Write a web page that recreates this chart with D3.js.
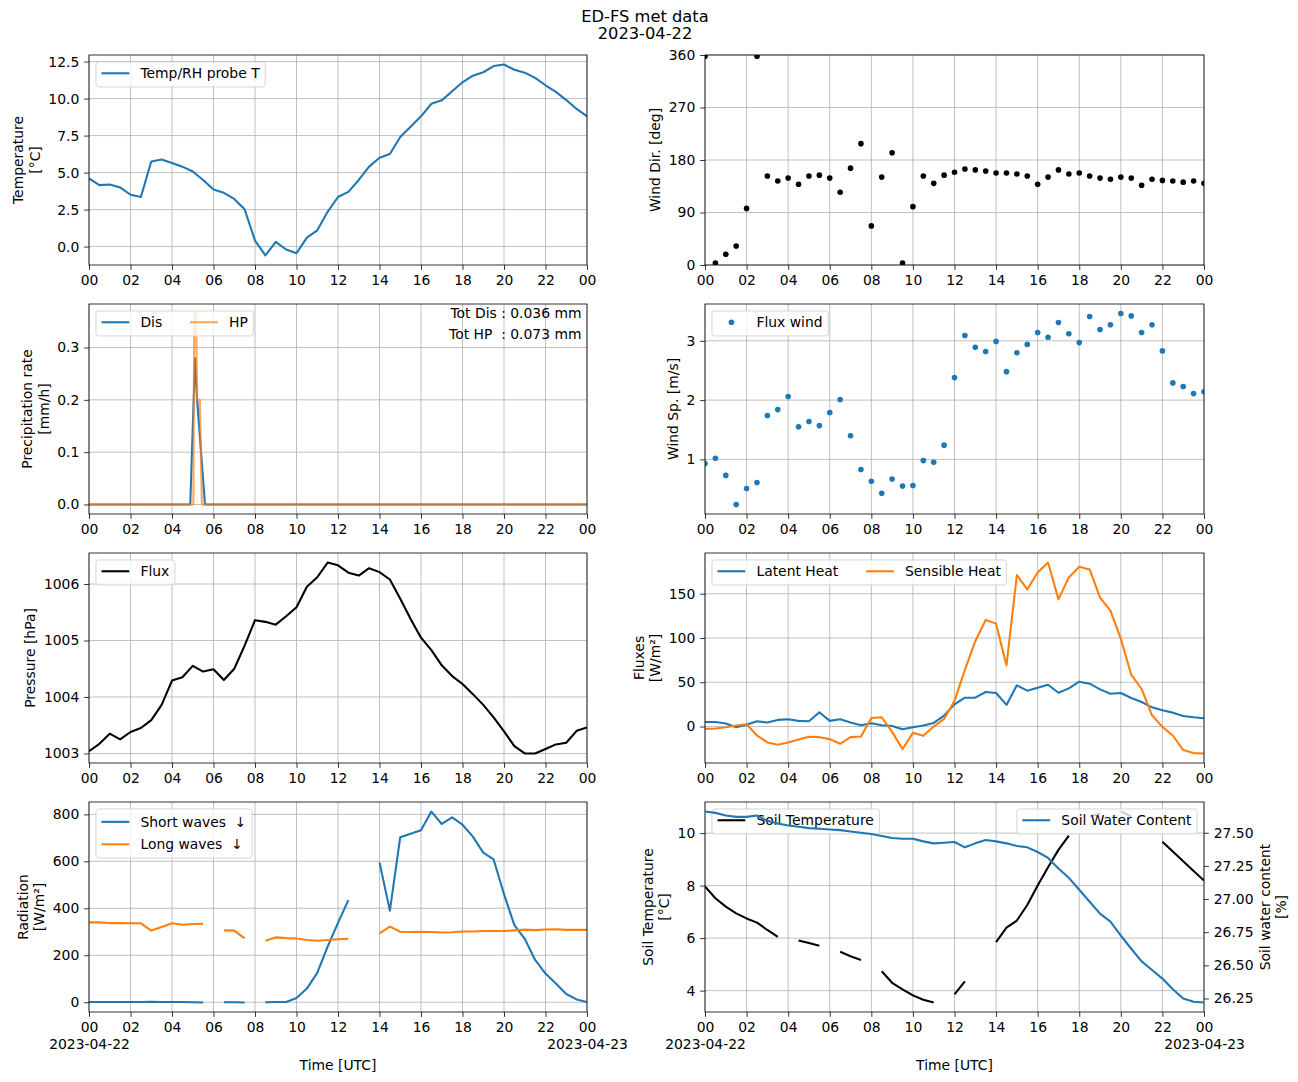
<!DOCTYPE html>
<html>
<head>
<meta charset="utf-8">
<script src="https://cdn.jsdelivr.net/npm/d3@7"></script>
<style>
  body { margin: 0; background: #fff; }
  svg text { font-family: "DejaVu Sans", sans-serif; white-space: pre; }
</style>
</head>
<body>
<div id="chart"></div>
<script>
// half-hourly timestamps, hours after 2023-04-22 00:00 UTC
const hours = [0,0.5,1,1.5,2,2.5,3,3.5,4,4.5,5,5.5,6,6.5,7,7.5,8,8.5,9,9.5,10,10.5,11,11.5,
  12,12.5,13,13.5,14,14.5,15,15.5,16,16.5,17,17.5,18,18.5,19,19.5,20,20.5,21,21.5,22,22.5,23,23.5,24];

const airTemp = [4.6,4.15,4.2,4.0,3.5,3.35,5.75,5.88,5.65,5.4,5.07,4.5,3.85,3.63,3.22,2.52,0.4,-0.6,0.32,-0.2,
  -0.45,0.6,1.1,2.35,3.35,3.7,4.5,5.4,6.0,6.25,7.4,8.1,8.8,9.65,9.88,10.5,11.1,11.55,11.78,12.2,
  12.3,11.95,11.75,11.4,10.9,10.45,9.9,9.3,8.8];

const windDir = [358,3.5,18.5,32.5,97,358,152.5,144,149,138.5,152.5,154,149,124.6,166,208,67,150.7,192.5,3.5,
  100,152.5,140,154,159,164.6,163,161,157.7,157.7,156,152.5,138.5,150.7,163,156,157.7,152.5,149,147,
  150.7,149,136.8,147,145,144,142,144,140];

const windSpeed = [0.93,1.02,0.73,0.24,0.51,0.61,1.74,1.84,2.06,1.55,1.64,1.57,1.79,2.01,1.40,0.83,0.63,0.43,0.67,0.55,
  0.56,0.98,0.95,1.24,2.38,3.09,2.89,2.82,2.99,2.48,2.80,2.94,3.14,3.06,3.31,3.12,2.97,3.41,3.19,3.27,
  3.46,3.42,3.14,3.27,2.83,2.29,2.23,2.11,2.14];

// precipitation has its own (finer) time stamps
const disHours = [0,4.88,5.11,5.21,5.59,24];
const disRate  = [0,0,0.28,0.2,0,0];
const hpHours  = [0,5.03,5.07,5.17,5.2,5.34,5.44,24];
const hpRate   = [0,0,0.365,0.365,0.2,0.2,0,0];
const precipNotes = ["Tot Dis : 0.036 mm", "Tot HP  : 0.073 mm"];

const pressure = [1003.04,1003.17,1003.35,1003.25,1003.38,1003.45,1003.59,1003.86,1004.29,1004.35,1004.55,1004.45,
  1004.49,1004.30,1004.50,1004.91,1005.36,1005.33,1005.28,1005.43,1005.59,1005.95,1006.12,1006.38,1006.33,
  1006.20,1006.15,1006.28,1006.21,1006.08,1005.74,1005.38,1005.05,1004.83,1004.56,1004.37,1004.23,1004.05,
  1003.86,1003.64,1003.39,1003.13,1003.00,1003.00,1003.08,1003.16,1003.19,1003.40,1003.46];

const latentHeat = [5.2,5.2,3.4,-0.8,1.9,6.0,4.5,7.5,8.2,6.4,6.0,16.1,6.4,8.2,4.5,1.5,3.7,1.5,0.7,-3.0,
  -0.8,1.1,4.1,12.4,25,32.6,32.6,39,37.9,24.4,46.5,40.5,43.9,47.2,38.2,43.1,50.6,48.4,42,37.1,
  37.9,32.2,27.7,21.7,18.4,15.7,12,10.5,9.4];

const sensibleHeat = [-2.6,-2.2,-0.8,1.1,2.6,-10.1,-18,-20.6,-18,-14.6,-11.6,-12,-14.2,-19.5,-12,-11.2,9.7,10.5,-6,-25.5,
  -7.1,-10.5,0,8.6,28.9,64,96.4,120.4,116.2,69,171,154.9,174,185.2,143.6,168.4,180.4,177.4,145.5,130.9,
  99,58.5,42.4,12.7,-0.4,-10.1,-26.6,-30,-30.4];

const shortWave = [1,1,1,1,1,1,2,1,1,1,0,-1,null,0,0,-1,null,0,1,1,
  18,58,125,237,338,435,null,null,595,390,703,717,732,812,759,787,756,705,637,608,
  460,328,270,180,122,80,35,12,1];

const longWave = [340,340,337,337,336,336,305,320,336,330,333,334,null,306,305,272,null,262,276,273,
  271,265,262,265,268,270,null,null,293,322,300,299,300,299,297,298,301,301,303,303,
  303,306,309,307,310,311,308,308,308];

const soilTemp = [7.97,7.52,7.2,6.94,6.75,6.59,6.31,6.05,null,5.91,5.81,5.71,null,5.48,5.31,5.17,null,4.74,4.3,4.05,
  3.82,3.65,3.55,null,3.86,4.35,null,null,5.85,6.4,6.67,7.26,8.0,8.7,9.36,9.9,null,10.63,10.75,null,
  10.82,10.63,null,null,9.67,9.3,8.93,8.56,8.19];

const soilWater = [27.66,27.65,27.63,27.62,27.62,27.63,27.59,27.57,27.555,27.545,27.535,27.53,27.525,27.52,27.51,27.50,
  27.49,27.475,27.46,27.455,27.455,27.435,27.42,27.425,27.43,27.39,27.42,27.445,27.435,27.42,27.40,27.39,
  27.355,27.31,27.23,27.16,27.07,26.98,26.89,26.83,26.725,26.625,26.53,26.465,26.40,26.32,26.25,26.225,26.22];

const xTicks = [0,2,4,6,8,10,12,14,16,18,20,22,24];
const xTickLabels = ["00","02","04","06","08","10","12","14","16","18","20","22","00"];
const dateLabels = ["2023-04-22","2023-04-23"];

const blue = "#1f77b4", orange = "#ff7f0e";
const fs = 13.9;
const lineH = 16.6;

const svg = d3.select("#chart").append("svg")
  .attr("width", 1298).attr("height", 1082)
  .attr("font-family", "DejaVu Sans");

const colX = [[89, 587], [705, 1204]];
const rowY = [[55, 265], [304, 514], [553, 763], [802, 1012]];

// 5% margins like matplotlib autoscale
function autoDomain(...series) {
  const all = series.flat().filter(v => v != null);
  const [a, b] = d3.extent(all);
  const m = (b - a) * 0.05;
  return [a - m, b + m];
}

function makePanel(col, row) {
  const [x0, x1] = colX[col], [y0, y1] = rowY[row];
  const id = "clip" + col + row;
  svg.append("clipPath").attr("id", id).append("rect")
    .attr("x", x0).attr("y", y0).attr("width", x1 - x0).attr("height", y1 - y0);
  const g = svg.append("g");
  const x = d3.scaleLinear().domain([0, 24]).range([x0, x1]);
  return { g, x, x0, x1, y0, y1, clip: `url(#${id})`, bottom: row === 3 };
}

function grid(p, y, yTicks) {
  const gg = p.g.append("g").attr("stroke", "#b0b0b0").attr("stroke-width", 0.8);
  gg.selectAll(".gx").data(xTicks).join("line")
    .attr("x1", d => p.x(d)).attr("x2", d => p.x(d)).attr("y1", p.y0).attr("y2", p.y1);
  gg.selectAll(".gy").data(yTicks).join("line")
    .attr("x1", p.x0).attr("x2", p.x1).attr("y1", d => y(d)).attr("y2", d => y(d));
}

function styleAxis(a) {
  a.attr("font-size", fs).attr("font-family", "DejaVu Sans");
  a.select(".domain").remove();
  a.selectAll("line").attr("stroke", "#000").attr("stroke-width", 0.8);
  a.selectAll("text").attr("fill", "#000");
}

function frame(p, y, yTicks, fmt) {
  p.g.append("rect").attr("x", p.x0).attr("y", p.y0)
    .attr("width", p.x1 - p.x0).attr("height", p.y1 - p.y0)
    .attr("fill", "none").attr("stroke", "#000").attr("stroke-width", 0.8);

  const xa = p.g.append("g").attr("transform", `translate(0,${p.y1})`)
    .call(d3.axisBottom(p.x).tickValues(xTicks).tickFormat((d, i) => xTickLabels[i])
      .tickSize(4.86).tickPadding(4.86));
  styleAxis(xa);
  if (p.bottom) {
    xa.selectAll(".tick text").each(function (d, i) {
      if (i === 0 || i === xTicks.length - 1) {
        d3.select(this).append("tspan").attr("x", 0).attr("dy", 17.5)
          .text(dateLabels[i === 0 ? 0 : 1]);
      }
    });
    p.g.append("text").attr("x", (p.x0 + p.x1) / 2).attr("y", p.y1 + 58)
      .attr("text-anchor", "middle").attr("font-size", fs).text("Time [UTC]");
  }
  return yAxis(p, y, yTicks, fmt, "left");
}

function yAxis(p, y, yTicks, fmt, side) {
  const ax = (side === "right" ? d3.axisRight(y) : d3.axisLeft(y))
    .tickValues(yTicks).tickFormat(fmt).tickSize(4.86).tickPadding(4.86);
  const a = p.g.append("g")
    .attr("transform", `translate(${side === "right" ? p.x1 : p.x0},0)`).call(ax);
  styleAxis(a);
  return a;
}

function yLabel(p, axisG, lines, side) {
  const bb = axisG.node().getBBox();
  const ym = (p.y0 + p.y1) / 2;
  let first;
  if (side === "right") {
    first = p.x1 + bb.x + bb.width + 5.56 + 0.76 * fs;
  } else {
    first = p.x0 + bb.x - 5.56 - 0.208 * fs - (lines.length - 1) * lineH;
  }
  const t = p.g.append("text").attr("font-size", fs).attr("text-anchor", "middle")
    .attr("transform", `translate(${first},${ym}) rotate(-90)`);
  lines.forEach((ln, i) => t.append("tspan").attr("x", 0).attr("dy", i ? lineH : 0).text(ln));
}

function textWidth(s) {
  const t = svg.append("text").attr("font-size", fs).text(s);
  const w = t.node().getComputedTextLength();
  t.remove();
  return w;
}

// matplotlib-like legend box
function legend(p, items, opt = {}) {
  const bp = 0.4 * fs, hl = 2 * fs, htp = 0.8 * fs, ls = 0.5 * fs, cs = 2 * fs, bap = 0.5 * fs;
  const rowH = opt.rowH || 1.0 * fs;
  const ncol = opt.ncol || 1;
  const nrow = Math.ceil(items.length / ncol);
  const cols = d3.range(ncol).map(c => items.slice(c * nrow, c * nrow + nrow));
  const colW = cols.map(c => hl + htp + d3.max(c, it => textWidth(it.label)));
  const bw = 2 * bp + d3.sum(colW) + (ncol - 1) * cs;
  const bh = 2 * bp + nrow * rowH + (nrow - 1) * ls;
  const bx = opt.right ? p.x1 - bap - bw : p.x0 + bap;
  const by = p.y0 + bap;
  const lg = p.g.append("g");
  lg.append("rect").attr("x", bx).attr("y", by).attr("width", bw).attr("height", bh)
    .attr("rx", 2.8).attr("fill", "#fff").attr("fill-opacity", 0.8)
    .attr("stroke", "#cccccc").attr("stroke-opacity", 0.8).attr("stroke-width", 1);
  let cx = bx + bp;
  cols.forEach((c, ci) => {
    c.forEach((it, ri) => {
      const top = by + bp + ri * (rowH + ls);
      const base = top + rowH - 0.236 * fs;
      const hy = base - 0.35 * fs;
      if (it.dot) {
        lg.append("circle").attr("cx", cx + hl / 2).attr("cy", hy).attr("r", 2.8).attr("fill", it.color);
      } else {
        lg.append("line").attr("x1", cx).attr("x2", cx + hl).attr("y1", hy).attr("y2", hy)
          .attr("stroke", it.color).attr("stroke-width", 2.08).attr("stroke-opacity", it.opacity || 1);
      }
      lg.append("text").attr("x", cx + hl + htp).attr("y", base).attr("font-size", fs).text(it.label);
    });
    cx += colW[ci] + cs;
  });
}

function drawLine(p, y, xs, ys, color, opacity) {
  const pts = xs.map((h, i) => [h, ys[i]]);
  p.g.append("path").datum(pts)
    .attr("clip-path", p.clip)
    .attr("fill", "none").attr("stroke", color).attr("stroke-width", 2.08)
    .attr("stroke-opacity", opacity || 1).attr("stroke-linejoin", "round")
    .attr("d", d3.line().defined(d => d[1] != null).x(d => p.x(d[0])).y(d => y(d[1])));
}

function drawDots(p, y, xs, ys, color) {
  p.g.append("g").attr("clip-path", p.clip).selectAll("circle")
    .data(xs.map((h, i) => [h, ys[i]])).join("circle")
    .attr("cx", d => p.x(d[0])).attr("cy", d => y(d[1])).attr("r", 2.8).attr("fill", color);
}

// title
svg.append("text").attr("x", 645).attr("y", 22).attr("text-anchor", "middle")
  .attr("font-size", 16.3).text("ED-FS met data");
svg.append("text").attr("x", 645).attr("y", 39).attr("text-anchor", "middle")
  .attr("font-size", 16.3).text("2023-04-22");

// 1. air temperature
{
  const p = makePanel(0, 0);
  const y = d3.scaleLinear().domain(autoDomain(airTemp)).range([p.y1, p.y0]);
  const ticks = [0, 2.5, 5, 7.5, 10, 12.5];
  grid(p, y, ticks);
  drawLine(p, y, hours, airTemp, blue);
  const a = frame(p, y, ticks, d3.format(".1f"));
  yLabel(p, a, ["Temperature", "[°C]"], "left");
  legend(p, [{ label: "Temp/RH probe T", color: blue }]);
}

// 2. wind direction
{
  const p = makePanel(1, 0);
  const y = d3.scaleLinear().domain([0, 360]).range([p.y1, p.y0]);
  const ticks = [0, 90, 180, 270, 360];
  grid(p, y, ticks);
  drawDots(p, y, hours, windDir, "#000");
  const a = frame(p, y, ticks, d3.format("d"));
  yLabel(p, a, ["Wind Dir. [deg]"], "left");
}

// 3. precipitation
{
  const p = makePanel(0, 1);
  const y = d3.scaleLinear().domain(autoDomain(disRate, hpRate)).range([p.y1, p.y0]);
  const ticks = [0, 0.1, 0.2, 0.3];
  grid(p, y, ticks);
  drawLine(p, y, disHours, disRate, blue);
  drawLine(p, y, hpHours, hpRate, orange, 0.7);
  const a = frame(p, y, ticks, d3.format(".1f"));
  yLabel(p, a, ["Precipitation rate", "[mm/h]"], "left");
  legend(p, [{ label: "Dis", color: blue }, { label: "HP", color: orange, opacity: 0.7 }], { ncol: 2 });
  precipNotes.forEach((s, i) => p.g.append("text").attr("x", p.x1 - 5.5).attr("y", p.y0 + 14 + i * 21)
    .attr("text-anchor", "end").attr("font-size", fs).text(s));
}

// 4. wind speed
{
  const p = makePanel(1, 1);
  const y = d3.scaleLinear().domain(autoDomain(windSpeed)).range([p.y1, p.y0]);
  const ticks = [1, 2, 3];
  grid(p, y, ticks);
  drawDots(p, y, hours, windSpeed, blue);
  const a = frame(p, y, ticks, d3.format("d"));
  yLabel(p, a, ["Wind Sp. [m/s]"], "left");
  legend(p, [{ label: "Flux wind", color: blue, dot: true }]);
}

// 5. pressure
{
  const p = makePanel(0, 2);
  const y = d3.scaleLinear().domain(autoDomain(pressure)).range([p.y1, p.y0]);
  const ticks = [1003, 1004, 1005, 1006];
  grid(p, y, ticks);
  drawLine(p, y, hours, pressure, "#000");
  const a = frame(p, y, ticks, d3.format("d"));
  yLabel(p, a, ["Pressure [hPa]"], "left");
  legend(p, [{ label: "Flux", color: "#000" }]);
}

// 6. turbulent fluxes
{
  const p = makePanel(1, 2);
  const y = d3.scaleLinear().domain(autoDomain(latentHeat, sensibleHeat)).range([p.y1, p.y0]);
  const ticks = [0, 50, 100, 150];
  grid(p, y, ticks);
  drawLine(p, y, hours, latentHeat, blue);
  drawLine(p, y, hours, sensibleHeat, orange);
  const a = frame(p, y, ticks, d3.format("d"));
  yLabel(p, a, ["Fluxes", "[W/m²]"], "left");
  legend(p, [{ label: "Latent Heat", color: blue }, { label: "Sensible Heat", color: orange }], { ncol: 2 });
}

// 7. radiation
{
  const p = makePanel(0, 3);
  const y = d3.scaleLinear().domain(autoDomain(shortWave, longWave)).range([p.y1, p.y0]);
  const ticks = [0, 200, 400, 600, 800];
  grid(p, y, ticks);
  drawLine(p, y, hours, shortWave, blue);
  drawLine(p, y, hours, longWave, orange);
  const a = frame(p, y, ticks, d3.format("d"));
  yLabel(p, a, ["Radiation", "[W/m²]"], "left");
  legend(p, [{ label: "Short waves  ↓", color: blue }, { label: "Long waves  ↓", color: orange }], { rowH: 15.5 });
}

// 8. soil temperature + soil water content (twin axis)
{
  const p = makePanel(1, 3);
  const y = d3.scaleLinear().domain(autoDomain(soilTemp)).range([p.y1, p.y0]);
  const y2 = d3.scaleLinear().domain(autoDomain(soilWater)).range([p.y1, p.y0]);
  const ticks = [4, 6, 8, 10];
  grid(p, y, ticks);
  drawLine(p, y, hours, soilTemp, "#000");
  const a = frame(p, y, ticks, d3.format("d"));
  yLabel(p, a, ["Soil Temperature", "[°C]"], "left");
  legend(p, [{ label: "Soil Temperature", color: "#000" }]);
  drawLine(p, y2, hours, soilWater, blue);
  const a2 = yAxis(p, y2, [26.25, 26.5, 26.75, 27.0, 27.25, 27.5], d3.format(".2f"), "right");
  yLabel(p, a2, ["Soil water content", "[%]"], "right");
  legend(p, [{ label: "Soil Water Content", color: blue }], { right: true });
}
</script>
</body>
</html>
